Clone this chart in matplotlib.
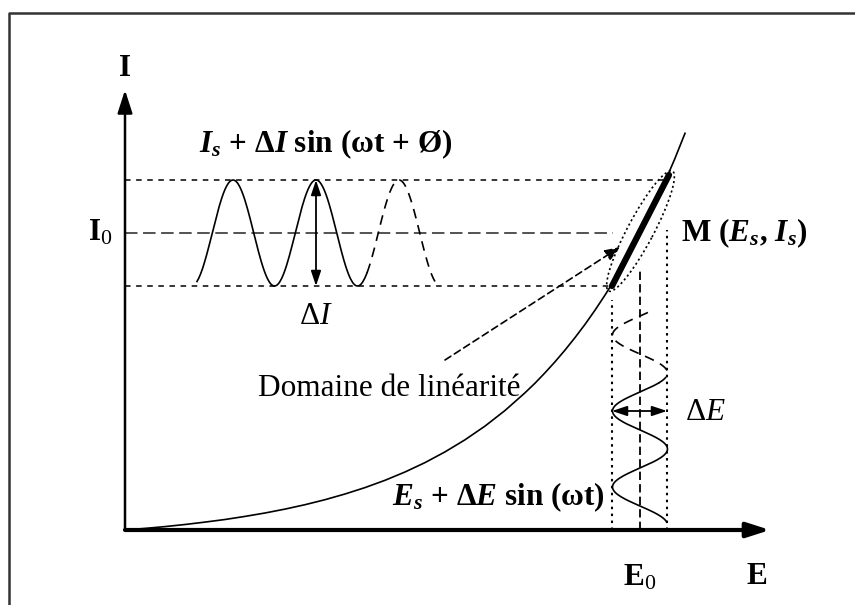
import numpy as np
import matplotlib
matplotlib.use("Agg")
import matplotlib.pyplot as plt
from matplotlib.patches import Ellipse

plt.rcParams['font.family'] = ['Liberation Serif', 'DejaVu Serif']
plt.rcParams['mathtext.fontset'] = 'custom'
plt.rcParams['mathtext.rm'] = 'Liberation Serif'
plt.rcParams['mathtext.it'] = 'Liberation Serif:italic'
plt.rcParams['mathtext.bf'] = 'Liberation Serif:bold:italic'
plt.rcParams['lines.scale_dashes'] = False

# courbe I = f(E)
E_curve = [0, 0.2, 0.4, 0.6, 0.8, 1.0, 1.2, 1.4, 1.6, 1.8, 2.0, 2.2, 2.4, 2.6, 2.8, 3.0,
           3.2, 3.4, 3.6, 3.8, 4.0, 4.1, 4.2, 4.3, 4.4, 4.5, 4.6, 4.7, 4.8, 4.9, 5.0,
           5.1, 5.2, 5.3, 5.4, 5.5, 5.6]
I_curve = [0, 0.016, 0.034, 0.055, 0.079, 0.105, 0.136, 0.170, 0.209, 0.253, 0.303, 0.360,
           0.424, 0.497, 0.580, 0.674, 0.781, 0.902, 1.039, 1.195, 1.372, 1.468, 1.572,
           1.682, 1.799, 1.924, 2.056, 2.198, 2.349, 2.509, 2.680, 2.862, 3.056, 3.263,
           3.483, 3.717, 3.967]

# point de fonctionnement et domaine linéaire
E_low, E0, E_high = 4.87, 5.15, 5.42
I_low, I0, I_high = 2.44, 2.97, 3.50

# sinusoïde du courant (horizontale)
I_amp = (I_high - I_low) / 2
I_period = 0.83
I_peak = 1.08
I_solid = (0.72, 2.42)
I_dashed = (2.42, 3.10)

# sinusoïde du potentiel (verticale)
E_amp = (E_high - E_low) / 2
E_period = 0.76
E_left = 1.19
E_solid = (0.08, 1.47)
E_dashed = (1.47, 2.20)

fig = plt.figure(figsize=(8.55, 6.05), dpi=100)
ax = fig.add_axes([0, 0, 1, 1])
ax.set_xlim(-1.25, 7.30)
ax.set_ylim(-0.75, 5.30)
ax.axis('off')

# cadre (seuls le haut et la gauche sont visibles)
ax.plot([-1.16, -1.16, 7.30], [-0.75, 5.17, 5.17], color='#333333', lw=1.8, solid_capstyle='butt')

# axes avec flèches
ax.annotate('', xy=(6.45, 0), xytext=(0, 0),
            arrowprops=dict(arrowstyle='-|>,head_length=1.4,head_width=0.45', lw=3, color='black', shrinkA=0, shrinkB=0))
ax.annotate('', xy=(0, 4.40), xytext=(0, 0),
            arrowprops=dict(arrowstyle='-|>,head_length=1.4,head_width=0.45', lw=1.8, color='black', shrinkA=0, shrinkB=0))

# lignes de repère horizontales
ax.plot([0, E_high], [I_high, I_high], color='black', lw=1.1, dashes=(4, 4))
ax.plot([0, E_low], [I_low, I_low], color='black', lw=1.1, dashes=(4, 4))
ax.plot([0, E_low + 0.01], [I0, I0], color='#444444', lw=1.3, dashes=(9, 4))

# lignes de repère verticales
ax.plot([E_low, E_low], [0, 2.30], color='black', lw=1.5, dashes=(1.8, 3.2))
ax.plot([E_high, E_high], [0, 3.00], color='black', lw=1.5, dashes=(1.8, 3.2))
ax.plot([E0, E0], [0, 2.62], color='black', lw=1.3, dashes=(6, 3))

# caractéristique I-E
ax.plot(E_curve, I_curve, color='black', lw=1.2)
ax.plot([E_low, E_high + 0.02], [I_low, I_high + 0.05], color='black', lw=4.5, solid_capstyle='round')
ax.add_patch(Ellipse(((E_low + E_high) / 2 + 0.01, I0 + 0.02), 1.36, 0.26, angle=62,
                     fill=False, ec='black', lw=1.2, ls=(0, (1.5, 2))))

# sinusoïde du courant
x = np.linspace(*I_solid, 200)
ax.plot(x, I0 + I_amp * np.cos(2 * np.pi * (x - I_peak) / I_period), color='black', lw=1.2)
x = np.linspace(*I_dashed, 100)
ax.plot(x, I0 + I_amp * np.cos(2 * np.pi * (x - I_peak) / I_period), color='black', lw=1.2, dashes=(7, 5))

# sinusoïde du potentiel
y = np.linspace(*E_solid, 200)
ax.plot(E0 - E_amp * np.cos(2 * np.pi * (y - E_left) / E_period), y, color='black', lw=1.2)
y = np.linspace(*E_dashed, 100)
ax.plot(E0 - E_amp * np.cos(2 * np.pi * (y - E_left) / E_period), y, color='black', lw=1.2, dashes=(7, 5))

# flèches ΔI et ΔE
ax.annotate('', xy=(I_peak + I_period, I_high), xytext=(I_peak + I_period, I_low),
            arrowprops=dict(arrowstyle='<|-|>,head_length=0.9,head_width=0.3', lw=1.3, color='black', shrinkA=0, shrinkB=0))
ax.annotate('', xy=(E_high, E_left), xytext=(E_low, E_left),
            arrowprops=dict(arrowstyle='<|-|>,head_length=0.9,head_width=0.3', lw=1.3, color='black', shrinkA=0, shrinkB=0))

# flèche du domaine de linéarité
ax.annotate('', xy=(4.95, 2.83), xytext=(3.20, 1.70),
            arrowprops=dict(arrowstyle='-|>,head_length=0.9,head_width=0.35', lw=1.2, color='black',
                            linestyle=(0, (5, 3)), shrinkA=0, shrinkB=0))

# textes
fs = 22.5
ax.text(0, 4.62, 'I', ha='center', va='center', fontsize=fs, fontweight='bold')
ax.text(-0.12, I0, 'I$_0$', ha='right', va='center', fontsize=fs, fontweight='bold')
ax.text(E0, -0.48, 'E$_0$', ha='center', va='center', fontsize=fs, fontweight='bold')
ax.text(6.32, -0.46, 'E', ha='center', va='center', fontsize=fs, fontweight='bold')
ax.text(2.01, 3.86, r'$\mathbf{I_s}$ + Δ$\mathbf{I}$ sin (ωt + Ø)', ha='center', va='center',
        fontsize=fs, fontweight='bold')
ax.text(1.91, 2.14, r'Δ$I$', ha='center', va='center', fontsize=fs)
ax.text(5.56, I0, r'M ($\mathbf{E_s}$, $\mathbf{I_s}$)', ha='left', va='center', fontsize=fs, fontweight='bold')
ax.text(1.33, 1.42, 'Domaine de linéarité', ha='left', va='center', fontsize=fs)
ax.text(5.60, 1.18, r'Δ$E$', ha='left', va='center', fontsize=fs)
ax.text(4.80, 0.33, r'$\mathbf{E_s}$ + Δ$\mathbf{E}$ sin (ωt)', ha='right', va='center',
        fontsize=fs, fontweight='bold')

fig.savefig('out.png', dpi=100)
